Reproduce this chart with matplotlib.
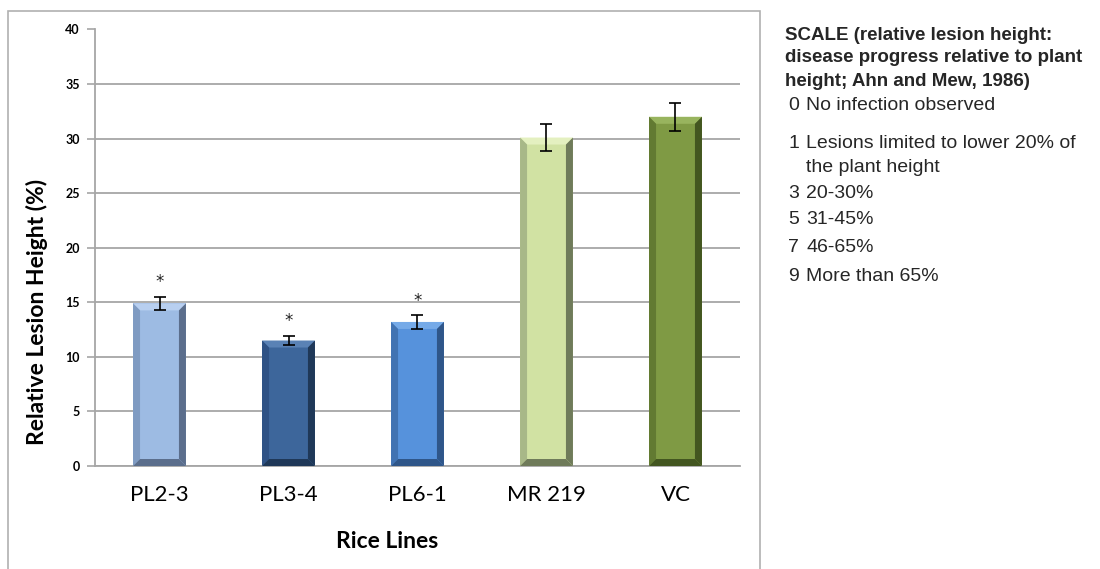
import numpy as np
import matplotlib.pyplot as plt
from matplotlib.patches import Polygon

# data
lines = ["PL2-3", "PL3-4", "PL6-1", "MR 219", "VC"]
lesion = [14.9, 11.5, 13.2, 30.1, 32.0]
err = [0.6, 0.45, 0.6, 1.25, 1.3]
signif = [True, True, True, False, False]

# face, light edge, side edge, dark edge
bar_cols = [
    ("#9dbbe3", "#b8cff0", "#7f9bc2", "#5b6e8c"),
    ("#3d669b", "#5a82b5", "#2f5285", "#1f3858"),
    ("#5692dc", "#75aae8", "#4173b2", "#2f5689"),
    ("#d1e2a3", "#e4f0c0", "#a8b888", "#6f7b5a"),
    ("#7f9a44", "#98b45e", "#627a32", "#435620"),
]

scale_title = ["SCALE (relative lesion height:",
               "disease progress relative to plant",
               "height; Ahn and Mew, 1986)"]
scale_rows = [("0", "No infection observed"),
              ("1", "Lesions limited to lower 20% of"),
              ("", "the plant height"),
              ("3", "20-30%"),
              ("5", "31-45%"),
              ("7", "46-65%"),
              ("9", "More than 65%")]

W, H = 1100, 569
fig = plt.figure(figsize=(W / 100, H / 100), dpi=100)
fig.patch.set_facecolor("white")

# chart frame
frame = plt.Rectangle((8 / W, -0.01), 752 / W, (H - 11) / H + 0.01,
                      transform=fig.transFigure, fill=False,
                      edgecolor="#b0b0b0", lw=1.2)
fig.patches.append(frame)

ax = fig.add_axes([95 / W, (H - 466) / H, 645 / W, 436.5 / H])
x = np.arange(len(lines))
bw = 0.41
bars = ax.bar(x, lesion, width=bw, zorder=2, linewidth=0)
ax.set_xlim(-0.5, len(lines) - 0.5)
ax.set_ylim(0, 40)

# bevel effect built from each bar's own geometry
dx = 7 * 5 / 645
dy = 7 * 40 / 436.5
for b, (face, light, side, dark) in zip(bars, bar_cols):
    x0, w, h = b.get_x(), b.get_width(), b.get_height()
    x1 = x0 + w
    b.set_facecolor(face)
    polys = [
        ([(x0, h), (x1, h), (x1 - dx, h - dy), (x0 + dx, h - dy)], light),
        ([(x0, 0), (x0, h), (x0 + dx, h - dy), (x0 + dx, dy)], side),
        ([(x1, 0), (x1, h), (x1 - dx, h - dy), (x1 - dx, dy)], dark),
        ([(x0, 0), (x1, 0), (x1 - dx, dy), (x0 + dx, dy)], dark),
    ]
    for pts, c in polys:
        ax.add_patch(Polygon(pts, closed=True, facecolor=c, edgecolor="none", zorder=3))

ax.errorbar(x, lesion, yerr=err, fmt="none", ecolor="black", elinewidth=1.2,
            capsize=4, capthick=1.2, zorder=4)

for xi, v, e, s in zip(x, lesion, err, signif):
    if s:
        ax.annotate("*", (xi, v + e), xytext=(0, 4), textcoords="offset points",
                    ha="center", va="bottom", fontsize=12, color="#222222")

ax.set_yticks(range(0, 41, 5))
ax.yaxis.grid(True, color="#a6a6a6", lw=1.3, zorder=0)
ax.set_axisbelow(True)
for sp in ["top", "right"]:
    ax.spines[sp].set_visible(False)
ax.spines["left"].set_color("#a6a6a6")
ax.spines["bottom"].set_color("#a6a6a6")
ax.spines["left"].set_linewidth(1.3)
ax.spines["bottom"].set_linewidth(1.3)
ax.tick_params(axis="y", length=6, color="#a6a6a6", width=1.2, pad=5)
ax.tick_params(axis="x", length=0, pad=14)
ax.set_xticks(x)
ax.set_xticklabels(lines, fontsize=16, family=["Lato", "DejaVu Sans"])
for t in ax.get_yticklabels():
    t.set_fontsize(9)
    t.set_fontweight("bold")
    t.set_family(["Lato", "DejaVu Sans"])

fig.text(37 / W, 1 - 312 / H, "Relative Lesion Height (%)", rotation=90,
         ha="center", va="center", fontsize=16.5, fontweight="bold",
         family=["Lato", "DejaVu Sans"])
fig.text(387 / W, 1 - 541 / H, "Rice Lines", ha="center", va="center",
         fontsize=16.5, fontweight="bold", family=["Lato", "DejaVu Sans"])

sans = ["Liberation Sans", "DejaVu Sans"]
title_y = [35, 58, 82]
for s, yy in zip(scale_title, title_y):
    fig.text(785 / W, 1 - yy / H, s, ha="left", va="center", fontsize=13.5,
             fontweight="bold", family=sans, color="#262626")
row_y = [106, 143, 167, 193, 220, 248, 276]
for (n, s), yy in zip(scale_rows, row_y):
    if n:
        fig.text(788 / W, 1 - yy / H, n, ha="left", va="center", fontsize=14,
                 family=sans, color="#262626")
    fig.text(806 / W, 1 - yy / H, s, ha="left", va="center", fontsize=14,
             family=sans, color="#262626")

fig.savefig("out.png", dpi=100)
